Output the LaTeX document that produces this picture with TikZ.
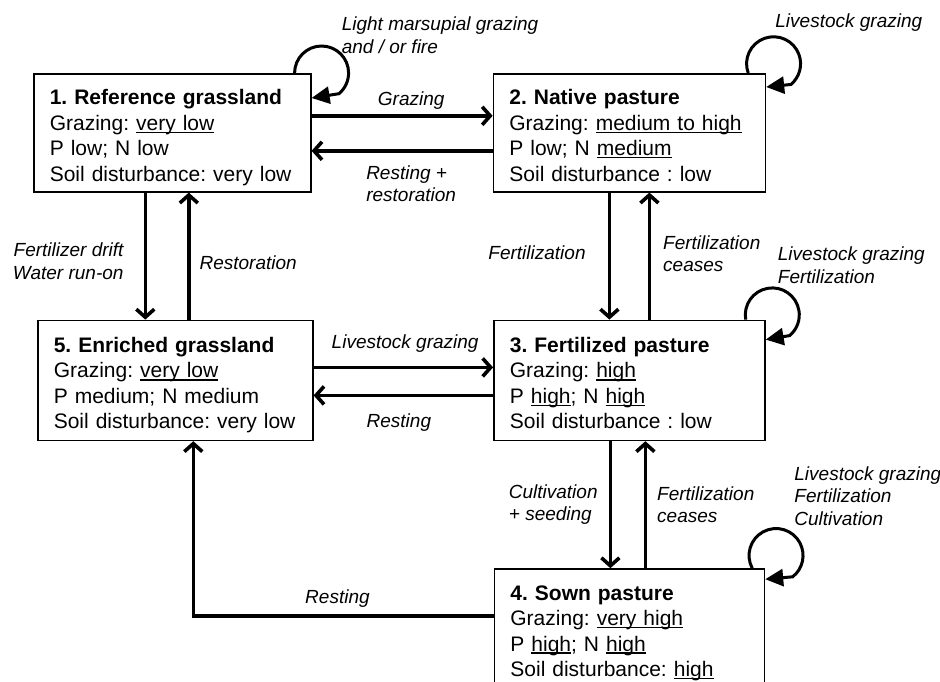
\documentclass[tikz,border=0pt]{standalone}
\usepackage{fontspec}
\setmainfont{Liberation Sans}
\usetikzlibrary{arrows.meta,positioning}
\newcommand{\uln}[1]{\setbox0\hbox{#1}\rlap{\rule[-2.6pt]{\wd0}{1.3pt}}\box0}
\frenchspacing

\begin{document}
\begin{tikzpicture}
[x=1pt, y=-1pt,
 state/.style={rectangle, draw, line width=1.6pt, inner xsep=16pt, inner ysep=5pt, align=left,
   text height=26pt, text depth=82pt, font=\fontsize{21}{25.5}\selectfont},
 lab/.style={inner sep=0pt, font=\fontsize{19}{22.5}\selectfont\itshape},
 trans/.style={-{Straight Barb[length=8pt,width=18pt]}, line width=3.6pt},
 selfloop/.style={-{Triangle[length=18pt,width=17pt]}, line width=3pt}]
    \useasboundingbox (0,0) rectangle (940,681);
    \clip (0,0) rectangle (940,681);
    \node[state, text width=245pt, anchor=north west](refgrass) at (33,73)
        {\textbf{1. Reference grassland}\\Grazing: \uln{very low}\\P low; N low\\Soil disturbance: very low};
    \node[state, text width=240pt](native) [right=181pt of refgrass]
        {\textbf{2. Native pasture}\\Grazing: \uln{medium to high}\\P low; N \uln{medium}\\Soil disturbance : low};
    \node[state, text width=243pt, minimum height=120pt](enriched) [below=127pt of refgrass, xshift=3pt]
        {\textbf{5. Enriched grassland}\\Grazing: \uln{very low}\\P medium; N medium\\Soil disturbance: very low};
    \node[state, text width=239pt, minimum height=120pt](fertpast) [below=127pt of native]
        {\textbf{3. Fertilized pasture}\\Grazing: \uln{high}\\P \uln{high}; N \uln{high}\\Soil disturbance : low};
    \node[state, text width=238pt, text depth=90pt](sown) [below=127pt of fertpast]
        {\textbf{4. Sown pasture}\\Grazing: \uln{very high}\\P \uln{high}; N \uln{high}\\Soil disturbance: \uln{high}};
    % transitions
    \draw[trans] ([yshift=17pt]refgrass.east) -- ([yshift=17pt]native.west)
        node[lab, above=5pt, pos=0.55](lgraz) {Grazing};
    \draw[trans] ([yshift=-18pt]native.west) -- ([yshift=-18pt]refgrass.east)
        node[lab, below=13pt, pos=0.45, align=left](lrestres) {Resting +\\restoration};
    \draw[trans] ([xshift=-27pt]refgrass.south) -- ([xshift=-30pt]enriched.north)
        node[lab, left=20pt, pos=0.54, align=right](ldrift) {Fertilizer drift\\Water run-on};
    \draw[trans] ([xshift=13.5pt]enriched.north) -- ([xshift=16.5pt]refgrass.south)
        node[lab, right=9pt, pos=0.45](lrestor) {Restoration};
    \draw[trans] ([xshift=-20pt]native.south) -- ([xshift=-20pt]fertpast.north)
        node[lab, left=22pt, pos=0.47](lfert) {Fertilization};
    \draw[trans] ([xshift=20pt]fertpast.north) -- ([xshift=20pt]native.south)
        node[lab, right=12pt, pos=0.52, align=left](lceases) {Fertilization\\ceases};
    \draw[trans] ([yshift=13pt]enriched.east) -- ([yshift=13pt]fertpast.west)
        node[lab, above=13pt, pos=0.51](lstock) {Livestock grazing};
    \draw[trans] ([yshift=-15pt]fertpast.west) -- ([yshift=-15pt]enriched.east)
        node[lab, below=17pt, pos=0.525](lrest) {Resting};
    \draw[trans] ([xshift=-19pt]fertpast.south) -- ([xshift=-19pt]sown.north)
        node[lab, left=11pt, pos=0.5, align=left](lcult) {Cultivation\\+ seeding};
    \draw[trans] ([xshift=16pt]sown.north) -- ([xshift=16pt]fertpast.south)
        node[lab, right=10pt, pos=0.5, align=left](lceases2) {Fertilization\\ceases};
    \draw[trans] ([yshift=16pt]sown.west) -| ([xshift=18pt]enriched.south)
        node[lab, above=7pt, pos=0.26](lrest2) {Resting};
    % self loops
    \draw[selfloop] ([xshift=-17pt]refgrass.north east) arc[start angle=180, end angle=-50, radius=27pt]
        -- ([yshift=-25pt]refgrass.north east);
    \draw[selfloop] ([xshift=-18pt]native.north east) arc[start angle=200, end angle=-50, radius=27pt]
        -- ([yshift=-14pt]native.north east);
    \draw[selfloop] ([xshift=-20pt]fertpast.north east) arc[start angle=190, end angle=-50, radius=27pt]
        -- ([yshift=-20pt]fertpast.north east);
    \draw[selfloop] ([xshift=-13pt]sown.north east) arc[start angle=208, end angle=-52, radius=27pt]
        -- ([yshift=-11pt]sown.north east);
    \node[lab, align=left, anchor=north west](lmarsup) at ([shift={(30pt,56pt)}]refgrass.north east)
        {Light marsupial grazing\\and / or fire};
    \node[lab, anchor=north west](lloop2) at ([shift={(9pt,59pt)}]native.north east) {Livestock grazing};
    \node[lab, align=left, anchor=north west](lloop3) at ([shift={(12pt,73pt)}]fertpast.north east)
        {Livestock grazing\\Fertilization};
    \node[lab, align=left, anchor=north west](lloop4) at ([shift={(29pt,102pt)}]sown.north east)
        {Livestock grazing\\Fertilization\\Cultivation};
\end{tikzpicture}
\end{document}
